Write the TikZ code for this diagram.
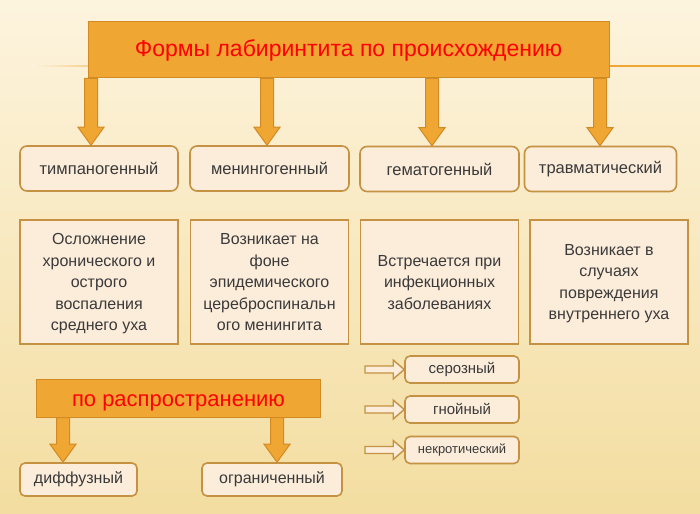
\documentclass[tikz,border=0pt]{standalone}
\usepackage{fontspec}
\setmainfont{Liberation Sans}
\usetikzlibrary{calc}

\definecolor{fonverh}{RGB}{253,244,222}
\definecolor{fonniz}{RGB}{243,221,160}
\definecolor{oranzh}{RGB}{240,166,50}
\definecolor{oranzhkant}{RGB}{210,138,36}
\definecolor{bezh}{RGB}{252,236,218}
\definecolor{kant}{RGB}{196,146,66}
\definecolor{tekst}{RGB}{58,58,58}

\tikzset{
  glav/.style={draw=oranzhkant, fill=oranzh, line width=1pt, text=red,
    font=\fontsize{23}{25}\selectfont, inner sep=0pt},
  vid/.style={draw=kant, fill=bezh, line width=1.6pt, rounded corners=7pt,
    text=tekst, font=\fontsize{16.5}{18}\selectfont, inner sep=0pt},
  opis/.style={draw=kant, fill=bezh, line width=1.6pt, text=tekst, align=center,
    font=\fontsize{16}{21.5}\selectfont, minimum width=158pt, minimum height=124pt,
    text depth=0pt},
  melk/.style={vid, minimum width=114pt, minimum height=27pt, rounded corners=5pt,
    font=\fontsize{15}{16}\selectfont},
  tolstaya/.style={draw=oranzhkant, fill=oranzh, line width=1pt, line join=miter},
  pustaya/.style={draw=kant, fill=bezh, line width=1.4pt, line join=miter}
}

% толстая стрелка вниз: #1 даёт верх, #2 остриё
\newcommand{\strelkavniz}[2]{%
  \draw[tolstaya] let \p1=#1, \p2=#2 in
    (\x2-6.5pt,\y1) -- (\x2+6.5pt,\y1) -- (\x2+6.5pt,\y2+18pt) -- (\x2+13pt,\y2+18pt)
    -- (\x2,\y2) -- (\x2-13pt,\y2+18pt) -- (\x2-6.5pt,\y2+18pt) -- cycle;}
% полая стрелка вправо: #1 хвост, #2 остриё
\newcommand{\strelkavpravo}[2]{%
  \draw[pustaya] let \p1=#1, \p2=#2 in
    (\x1,\y2+3.5pt) -- (\x2-11pt,\y2+3.5pt) -- (\x2-11pt,\y2+9.5pt) -- (\x2,\y2)
    -- (\x2-11pt,\y2-9.5pt) -- (\x2-11pt,\y2-3.5pt) -- (\x1,\y2-3.5pt) -- cycle;}

\begin{document}
\begin{tikzpicture}[x=1pt,y=-1pt]
    % фон
    \fill[top color=fonverh, bottom color=fonniz] (0,0) rectangle (700,513);
    \useasboundingbox (0,0) rectangle (700,513);
    \fill[left color=fonverh, right color=oranzh!60] (30,65.2) rectangle (100,66.8);
    \fill[oranzh] (560,65.2) rectangle (700,66.8);

    % по происхождению
    \node[glav, minimum width=521pt, minimum height=56pt] (forma) at (348.5,50)
        {Формы лабиринтита по происхождению};

    \node[vid, minimum width=158pt, minimum height=45pt] (timp) at (99,168.5) {тимпаногенный};
    \node[vid, minimum width=159pt, minimum height=45pt] (mening) at (269.5,168.5) {менингогенный};
    \node[vid, minimum width=159pt, minimum height=45pt] (gemat) at (439.5,169) {гематогенный};
    \node[vid, minimum width=152pt, minimum height=45pt] (travm) at (600.5,169) {травматический};

    \strelkavniz{(forma.south)}{([xshift=-8pt]timp.north)}
    \strelkavniz{(forma.south)}{([xshift=-2.5pt]mening.north)}
    \strelkavniz{(forma.south)}{([xshift=-7.5pt]gemat.north)}
    \strelkavniz{(forma.south)}{([xshift=-0.5pt]travm.north)}

    \node[opis] (timpo) at (99,282) {Осложнение\\хронического и\\острого\\воспаления\\среднего уха};
    \node[opis] (meningo) at (269.5,282) {Возникает на\\фоне\\эпидемического\\цереброспинальн\\ого менингита};
    \node[opis] (gemato) at (439.5,282) {Встречается при\\инфекционных\\заболеваниях};
    \node[opis] (travmo) at (609,282) {Возникает в\\случаях\\повреждения\\внутреннего уха};

    % гематогенный: виды
    \node[melk] (seroz) at (462,369.5) {серозный};
    \node[melk] (gnoj) at (462,409.5) {гнойный};
    \node[melk, font=\fontsize{13}{14}\selectfont] (nekr) at (462,450) {некротический};
    \coordinate (s1) at (365,369.5);
    \coordinate (s2) at (365,409.5);
    \coordinate (s3) at (365,450);
    \strelkavpravo{(s1)}{(seroz.west)}
    \strelkavpravo{(s2)}{(gnoj.west)}
    \strelkavpravo{(s3)}{(nekr.west)}

    % по распространению
    \node[glav, minimum width=284pt, minimum height=38pt, font=\fontsize{22}{24}\selectfont,
        text height=17pt, text depth=0pt] (rasp) at (178.5,398) {по распространению};
    \node[vid, minimum width=117pt, minimum height=33pt, rounded corners=5pt,
        font=\fontsize{16}{18}\selectfont] (diff) at (78.5,479.5) {диффузный};
    \node[vid, minimum width=140pt, minimum height=33pt, rounded corners=5pt,
        font=\fontsize{16}{18}\selectfont] (ogr) at (272,479.5) {ограниченный};
    \strelkavniz{(rasp.south)}{([xshift=-15.5pt]diff.north)}
    \strelkavniz{(rasp.south)}{([xshift=5pt]ogr.north)}
\end{tikzpicture}
\end{document}
